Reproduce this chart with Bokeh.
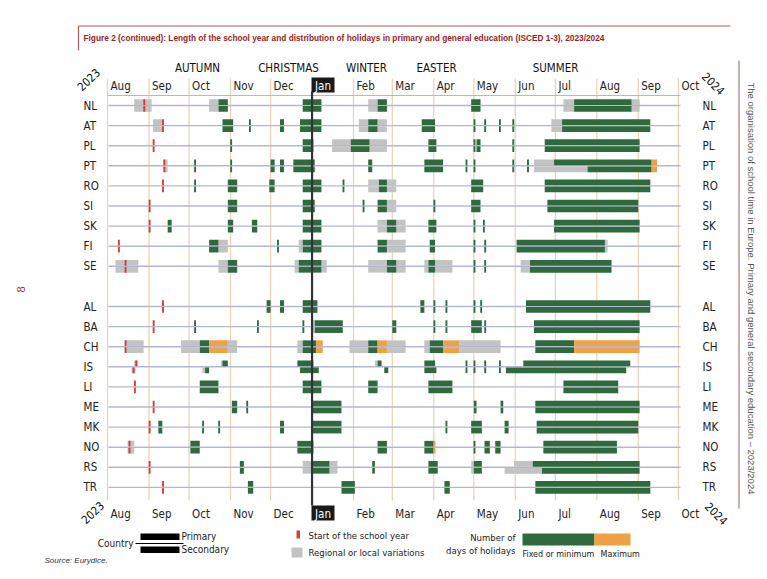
import datetime as dt
from bokeh.plotting import figure
from bokeh.models import Range1d
from bokeh.core.properties import value
from bokeh.embed import file_html
from bokeh.resources import INLINE

# ---------------- data ----------------
ROWS = ["NL", "AT", "PL", "PT", "RO", "SI", "SK", "FI", "SE", "",
        "AL", "BA", "CH", "IS", "LI", "ME", "MK", "NO", "RS", "TR"]
MONTH_LABELS = ["Aug", "Sep", "Oct", "Nov", "Dec", "Jan", "Feb", "Mar",
                "Apr", "May", "Jun", "Jul", "Aug", "Sep", "Oct"]
MONTH_STARTS = ["2023-08-01", "2023-09-01", "2023-10-01", "2023-11-01",
                "2023-12-01", "2024-01-01", "2024-02-01", "2024-03-01",
                "2024-04-01", "2024-05-01", "2024-06-01", "2024-07-01",
                "2024-08-01", "2024-09-01", "2024-10-01"]
SEASONS = ["AUTUMN", "CHRISTMAS", "WINTER", "EASTER", "SUMMER"]
YEARS = ["2023", "2024"]

# segments: (first day, last day, kind, level)
# kind: f = fixed/minimum, m = maximum, v = regional variation, s = start of school year
# level: b = both, p = primary, s = secondary
NL = [("2023-08-21", "2023-09-02", "v", "b"), ("2023-08-28", "2023-08-28", "s", "b"),
      ("2023-10-16", "2023-10-22", "v", "b"), ("2023-10-23", "2023-10-29", "f", "b"),
      ("2023-12-25", "2024-01-07", "f", "b"), ("2024-02-12", "2024-02-18", "v", "b"),
      ("2024-02-19", "2024-02-25", "f", "b"), ("2024-04-29", "2024-05-05", "f", "b"),
      ("2024-07-07", "2024-07-14", "v", "b"), ("2024-07-15", "2024-08-26", "f", "b"),
      ("2024-08-27", "2024-09-01", "v", "b")]
AT = [("2023-09-04", "2023-09-10", "v", "b"), ("2023-09-11", "2023-09-11", "s", "b"),
      ("2023-10-26", "2023-11-02", "f", "b"), ("2023-11-15", "2023-11-15", "f", "b"),
      ("2023-12-08", "2023-12-10", "f", "b"), ("2023-12-23", "2024-01-07", "f", "b"),
      ("2024-02-05", "2024-02-11", "v", "b"), ("2024-02-12", "2024-02-18", "f", "b"),
      ("2024-02-19", "2024-02-25", "v", "b"), ("2024-03-23", "2024-04-01", "f", "b"),
      ("2024-05-01", "2024-05-01", "f", "b"), ("2024-05-09", "2024-05-09", "f", "b"),
      ("2024-05-20", "2024-05-20", "f", "b"), ("2024-05-30", "2024-05-30", "f", "b"),
      ("2024-06-28", "2024-07-05", "v", "b"), ("2024-07-06", "2024-09-09", "f", "b")]
PL = [("2023-09-04", "2023-09-04", "s", "b"), ("2023-11-01", "2023-11-01", "f", "b"),
      ("2023-12-25", "2024-01-01", "f", "b"), ("2024-01-16", "2024-01-29", "v", "b"),
      ("2024-01-30", "2024-02-12", "f", "b"), ("2024-02-13", "2024-02-25", "v", "b"),
      ("2024-03-28", "2024-04-02", "f", "b"), ("2024-05-01", "2024-05-01", "f", "b"),
      ("2024-05-03", "2024-05-05", "f", "b"), ("2024-05-30", "2024-05-30", "f", "b"),
      ("2024-06-23", "2024-09-01", "f", "b")]
PT = [("2023-09-12", "2023-09-14", "v", "b"), ("2023-09-12", "2023-09-12", "s", "b"),
      ("2023-10-05", "2023-10-05", "f", "b"), ("2023-11-01", "2023-11-01", "f", "b"),
      ("2023-12-01", "2023-12-03", "f", "b"), ("2023-12-08", "2023-12-10", "f", "b"),
      ("2023-12-18", "2024-01-02", "f", "b"), ("2024-02-12", "2024-02-14", "f", "b"),
      ("2024-03-25", "2024-04-07", "f", "b"), ("2024-04-25", "2024-04-25", "f", "b"),
      ("2024-05-01", "2024-05-01", "f", "b"), ("2024-05-30", "2024-05-30", "f", "b"),
      ("2024-06-10", "2024-06-10", "f", "b"),
      ("2024-06-15", "2024-06-29", "v", "p"), ("2024-06-30", "2024-09-10", "f", "p"),
      ("2024-06-15", "2024-07-24", "v", "s"), ("2024-07-25", "2024-09-10", "f", "s"),
      ("2024-09-11", "2024-09-14", "m", "b")]
RO = [("2023-09-11", "2023-09-11", "s", "b"), ("2023-10-05", "2023-10-05", "f", "b"),
      ("2023-10-30", "2023-11-05", "f", "b"), ("2023-11-30", "2023-12-03", "f", "b"),
      ("2023-12-25", "2024-01-07", "f", "b"), ("2024-01-24", "2024-01-24", "f", "b"),
      ("2024-02-12", "2024-02-19", "v", "b"), ("2024-02-20", "2024-02-25", "f", "b"),
      ("2024-02-26", "2024-03-03", "v", "b"), ("2024-04-29", "2024-05-07", "f", "b"),
      ("2024-06-23", "2024-09-09", "f", "b")]
SI = [("2023-09-01", "2023-09-01", "s", "b"), ("2023-10-30", "2023-11-05", "f", "b"),
      ("2023-12-25", "2024-01-02", "f", "b"), ("2024-02-08", "2024-02-08", "f", "b"),
      ("2024-02-19", "2024-02-25", "f", "b"), ("2024-02-26", "2024-03-03", "v", "b"),
      ("2024-04-01", "2024-04-01", "f", "b"), ("2024-04-29", "2024-05-05", "f", "b"),
      ("2024-06-25", "2024-08-31", "f", "b")]
SK = [("2023-09-01", "2023-09-01", "s", "b"), ("2023-09-15", "2023-09-17", "f", "b"),
      ("2023-10-30", "2023-11-02", "f", "b"), ("2023-11-17", "2023-11-20", "f", "b"),
      ("2023-12-25", "2024-01-07", "f", "b"), ("2024-02-19", "2024-02-25", "v", "b"),
      ("2024-02-26", "2024-03-03", "f", "b"), ("2024-03-04", "2024-03-10", "v", "b"),
      ("2024-03-28", "2024-04-02", "f", "b"), ("2024-05-01", "2024-05-01", "f", "b"),
      ("2024-05-08", "2024-05-08", "f", "b"), ("2024-06-30", "2024-09-01", "f", "b")]
FI = [("2023-08-09", "2023-08-09", "s", "b"), ("2023-10-16", "2023-10-22", "f", "b"),
      ("2023-10-23", "2023-10-29", "v", "b"), ("2023-12-06", "2023-12-06", "f", "b"),
      ("2023-12-22", "2023-12-24", "v", "b"), ("2023-12-25", "2024-01-07", "f", "b"),
      ("2024-02-19", "2024-02-25", "f", "b"), ("2024-02-26", "2024-03-10", "v", "b"),
      ("2024-03-29", "2024-04-01", "f", "b"), ("2024-05-01", "2024-05-01", "f", "b"),
      ("2024-05-09", "2024-05-09", "f", "b"), ("2024-06-02", "2024-08-06", "f", "b"),
      ("2024-08-07", "2024-08-08", "v", "b")]
SE = [("2023-08-07", "2023-08-23", "v", "b"), ("2023-08-14", "2023-08-14", "s", "b"),
      ("2023-10-23", "2023-10-29", "v", "b"), ("2023-10-30", "2023-11-05", "f", "b"),
      ("2023-12-19", "2023-12-21", "v", "b"), ("2023-12-22", "2024-01-07", "f", "b"),
      ("2024-01-08", "2024-01-11", "v", "b"), ("2024-02-12", "2024-02-25", "v", "b"),
      ("2024-02-26", "2024-03-03", "f", "b"), ("2024-03-04", "2024-03-10", "v", "b"),
      ("2024-03-25", "2024-03-27", "v", "b"), ("2024-03-28", "2024-04-01", "f", "b"),
      ("2024-04-02", "2024-04-14", "v", "b"), ("2024-05-01", "2024-05-01", "f", "b"),
      ("2024-05-09", "2024-05-09", "f", "b"), ("2024-06-05", "2024-06-11", "v", "b"),
      ("2024-06-12", "2024-08-11", "f", "b")]
AL = [("2023-09-11", "2023-09-11", "s", "b"), ("2023-11-28", "2023-11-30", "f", "b"),
      ("2023-12-08", "2023-12-10", "f", "b"), ("2023-12-25", "2024-01-04", "f", "b"),
      ("2024-03-22", "2024-03-24", "f", "b"), ("2024-04-01", "2024-04-01", "f", "b"),
      ("2024-04-10", "2024-04-10", "f", "b"), ("2024-05-01", "2024-05-01", "f", "b"),
      ("2024-05-06", "2024-05-06", "f", "b"), ("2024-06-09", "2024-09-09", "f", "b")]
BA = [("2023-09-04", "2023-09-04", "s", "b"), ("2023-10-05", "2023-10-05", "f", "b"),
      ("2023-11-21", "2023-11-21", "f", "b"), ("2023-12-25", "2023-12-25", "f", "b"),
      ("2024-01-01", "2024-01-02", "v", "b"), ("2024-01-03", "2024-01-23", "f", "b"),
      ("2024-03-01", "2024-03-03", "f", "b"), ("2024-04-01", "2024-04-01", "f", "b"),
      ("2024-04-10", "2024-04-10", "f", "b"), ("2024-04-29", "2024-05-06", "f", "b"),
      ("2024-05-09", "2024-05-09", "f", "b"), ("2024-06-15", "2024-09-01", "f", "b")]
CH = [("2023-08-14", "2023-08-27", "v", "b"), ("2023-08-14", "2023-08-14", "s", "b"),
      ("2023-09-25", "2023-10-08", "v", "b"), ("2023-10-09", "2023-10-15", "f", "b"),
      ("2023-10-16", "2023-10-29", "m", "b"), ("2023-10-30", "2023-11-05", "v", "b"),
      ("2023-12-21", "2023-12-24", "v", "b"), ("2023-12-25", "2024-01-03", "f", "b"),
      ("2024-01-04", "2024-01-08", "m", "b"), ("2024-01-29", "2024-02-11", "v", "b"),
      ("2024-02-12", "2024-02-18", "f", "b"), ("2024-02-19", "2024-02-25", "m", "b"),
      ("2024-02-26", "2024-03-10", "v", "b"), ("2024-03-25", "2024-03-28", "v", "b"),
      ("2024-03-29", "2024-04-07", "f", "b"), ("2024-04-08", "2024-04-19", "m", "b"),
      ("2024-04-20", "2024-05-20", "v", "b"), ("2024-06-16", "2024-07-14", "f", "b"),
      ("2024-07-15", "2024-09-01", "m", "b")]
IS = [("2023-08-21", "2023-08-23", "v", "p"), ("2023-08-22", "2023-08-22", "s", "p"),
      ("2023-08-19", "2023-08-21", "v", "s"), ("2023-08-20", "2023-08-20", "s", "s"),
      ("2023-10-25", "2023-10-25", "v", "p"), ("2023-10-26", "2023-10-29", "f", "p"),
      ("2023-10-11", "2023-10-12", "v", "s"), ("2023-10-13", "2023-10-15", "f", "s"),
      ("2023-12-21", "2024-01-01", "f", "p"), ("2023-12-23", "2024-01-05", "f", "s"),
      ("2024-02-17", "2024-02-18", "v", "p"), ("2024-02-19", "2024-02-21", "f", "p"),
      ("2024-02-24", "2024-02-26", "f", "s"), ("2024-03-25", "2024-04-01", "f", "p"),
      ("2024-03-25", "2024-04-02", "f", "s"), ("2024-04-25", "2024-04-25", "f", "b"),
      ("2024-05-01", "2024-05-01", "f", "b"), ("2024-05-09", "2024-05-09", "f", "b"),
      ("2024-05-20", "2024-05-20", "f", "b"), ("2024-06-07", "2024-08-25", "f", "p"),
      ("2024-05-25", "2024-08-22", "f", "s")]
LI = [("2023-08-21", "2023-08-21", "s", "b"), ("2023-10-09", "2023-10-22", "f", "b"),
      ("2023-12-25", "2024-01-07", "f", "b"), ("2024-02-12", "2024-02-18", "f", "b"),
      ("2024-03-28", "2024-04-14", "f", "b"), ("2024-07-07", "2024-08-16", "f", "b")]
ME = [("2023-09-04", "2023-09-04", "s", "b"), ("2023-11-02", "2023-11-05", "f", "b"),
      ("2023-11-13", "2023-11-13", "f", "b"), ("2024-01-01", "2024-01-22", "f", "b"),
      ("2024-05-01", "2024-05-02", "f", "b"), ("2024-05-21", "2024-05-22", "f", "b"),
      ("2024-06-16", "2024-09-01", "f", "b")]
MK = [("2023-09-01", "2023-09-01", "s", "b"), ("2023-09-08", "2023-09-10", "f", "b"),
      ("2023-10-11", "2023-10-11", "f", "b"), ("2023-10-23", "2023-10-23", "f", "b"),
      ("2023-12-08", "2023-12-10", "f", "b"), ("2024-01-01", "2024-01-22", "f", "b"),
      ("2024-04-10", "2024-04-10", "f", "b"), ("2024-04-29", "2024-05-06", "f", "b"),
      ("2024-05-24", "2024-05-26", "f", "b"), ("2024-06-17", "2024-08-31", "f", "b")]
NO = [("2023-08-16", "2023-08-20", "v", "b"), ("2023-08-17", "2023-08-17", "s", "b"),
      ("2023-10-02", "2023-10-08", "f", "b"), ("2023-12-21", "2024-01-01", "f", "b"),
      ("2024-02-19", "2024-02-25", "f", "b"), ("2024-03-25", "2024-03-31", "f", "b"),
      ("2024-04-01", "2024-04-01", "m", "b"), ("2024-05-01", "2024-05-01", "f", "b"),
      ("2024-05-09", "2024-05-12", "f", "b"), ("2024-05-17", "2024-05-20", "f", "b"),
      ("2024-06-22", "2024-08-15", "f", "b")]
RS = [("2023-09-01", "2023-09-01", "s", "b"), ("2023-11-08", "2023-11-10", "f", "b"),
      ("2023-12-25", "2023-12-31", "v", "b"), ("2024-01-01", "2024-01-13", "f", "b"),
      ("2024-01-14", "2024-01-19", "v", "b"), ("2024-02-15", "2024-02-16", "f", "b"),
      ("2024-03-28", "2024-04-03", "f", "b"), ("2024-04-29", "2024-04-30", "v", "b"),
      ("2024-05-01", "2024-05-06", "f", "b"),
      ("2024-05-31", "2024-06-13", "v", "p"), ("2024-06-14", "2024-09-01", "f", "p"),
      ("2024-05-24", "2024-06-20", "v", "s"), ("2024-06-21", "2024-09-01", "f", "s")]
TR = [("2023-09-11", "2023-09-11", "s", "b"), ("2023-11-14", "2023-11-17", "f", "b"),
      ("2024-01-23", "2024-02-01", "f", "b"), ("2024-04-09", "2024-04-12", "f", "b"),
      ("2024-06-16", "2024-09-09", "f", "b")]

COUNTRY_DATA = {"NL": NL, "AT": AT, "PL": PL, "PT": PT, "RO": RO, "SI": SI,
                "SK": SK, "FI": FI, "SE": SE, "AL": AL, "BA": BA, "CH": CH,
                "IS": IS, "LI": LI, "ME": ME, "MK": MK, "NO": NO, "RS": RS, "TR": TR}

# ---------------- layout helpers (pixel -> data) ----------------
ORIGIN = dt.date(2023, 8, 1)
X0PX, PXD = 107.0, 1.337      # pixel of 1 Aug 2023, pixels per day
Y0PX, PXR = 105.0, 20.1       # pixel of first row, pixels per row
W, H = 767, 579


def day(s):
    return (dt.date.fromisoformat(s) - ORIGIN).days


def PX(x):
    return (x - X0PX) / PXD


def PY(y):
    return (y - Y0PX) / PXR


FONT = "DejaVu Sans Condensed, Liberation Sans, sans-serif"
FONT2 = "Liberation Sans"
GREEN, ORANGE, GRAY, RED = "#2e6a3e", "#eea245", "#c3c3c3", "#d63b35"
ROWLINE, GRID = "#b3b8d1", "#ebd0b2"
COLORS = {"f": GREEN, "m": ORANGE, "v": GRAY, "s": RED}

p = figure(width=W, height=H, x_range=Range1d(PX(0), PX(W)),
           y_range=Range1d(PY(H), PY(0)), output_backend="svg",
           toolbar_location=None, min_border=0,
           x_axis_location=None, y_axis_location=None)
p.grid.visible = False
p.outline_line_color = None
p.background_fill_color = "white"
p.border_fill_color = "white"


def txt(xs, ys, texts, size="12px", color="#222222", align="left", angle=0.0,
        style="normal", font=FONT, baseline="middle"):
    p.text(x=xs, y=ys, text=texts, angle=angle, text_font=value(font),
           text_font_size=value(size), text_font_style=style, text_color=color,
           text_align=align, text_baseline=baseline)


# ---------------- frame / title ----------------
p.segment(x0=[PX(78), PX(78)], y0=[PY(25.5), PY(25.5)], x1=[PX(730), PX(78)],
          y1=[PY(25.5), PY(50)], line_color="#a65c5c", line_width=1.2)
txt([PX(83)], [PY(37)],
    ["Figure 2 (continued): Length of the school year and distribution of holidays in primary and  general education (ISCED 1-3), 2023/2024"],
    size="8.3px", color="#9a2424", style="bold", font=FONT2)
p.segment(x0=[PX(738.5)], y0=[PY(60)], x1=[PX(738.5)], y1=[PY(508)],
          line_color="#b07a7a", line_width=1.2)
txt([PX(751)], [PY(288)],
    ["The organisation of school time in Europe. Primary and general secondary education \u2013 2023/2024"],
    size="9.5px", color="#555555", align="center", angle=-1.5708, font=FONT2)
txt([PX(20)], [PY(289)], ["8"], size="11px", color="#9a2d2d", align="center",
    angle=1.5708, font=FONT2)

# ---------------- grid ----------------
ms = [day(s) for s in MONTH_STARTS]
jan = day("2024-01-01")
grid_x = [m for m in ms if m != jan]
p.segment(x0=grid_x, y0=[PY(78)] * len(grid_x), x1=grid_x, y1=[PY(500)] * len(grid_x),
          line_color=GRID, line_width=1.2)
p.segment(x0=[PX(107)], y0=[PY(95)], x1=[PX(680)], y1=[PY(95)],
          line_color=ROWLINE, line_width=1.2)

row_idx = [i for i, c in enumerate(ROWS) if c]
p.segment(x0=[PX(108)] * len(row_idx), y0=row_idx, x1=[PX(680)] * len(row_idx),
          y1=row_idx, line_color=ROWLINE, line_width=1.4)

# ---------------- bars ----------------
HALF_OUT, HALF_IN = 0.315, 0.03
quads = {k: dict(left=[], right=[], top=[], bottom=[]) for k in "vfms"}
for r, c in enumerate(ROWS):
    if not c:
        continue
    for start, end, kind, level in COUNTRY_DATA[c]:
        a, b = day(start), day(end) + 1
        if kind == "s" or a + 1 == b:
            mid = a + 0.5
            a, b = mid - 0.7, mid + 0.7
        halves = []
        if level in "bp":
            halves.append((r - HALF_OUT, r - HALF_IN))
        if level in "bs":
            halves.append((r + HALF_IN, r + HALF_OUT))
        for t, btm in halves:
            q = quads[kind]
            q["left"].append(a)
            q["right"].append(b)
            q["top"].append(t)
            q["bottom"].append(btm)
for k in "vfms":
    p.quad(**quads[k], fill_color=COLORS[k], line_color=None)

# Jan line over bars
p.segment(x0=[jan], y0=[PY(91)], x1=[jan], y1=[PY(505)], line_color="#333333", line_width=2.2)

# ---------------- month labels ----------------
lab_x = [m + 3 / PXD for m in ms]
top_x = [x for x, m in zip(lab_x, ms) if m != jan]
top_t = [lab for lab, m in zip(MONTH_LABELS, ms) if m != jan]
txt(top_x, [PY(85)] * len(top_x), top_t, size="11.5px")
txt(top_x, [PY(513)] * len(top_x), top_t, size="11.5px")
p.quad(left=[PX(311), PX(311)], right=[PX(334), PX(334)], top=[PY(77), PY(505)],
       bottom=[PY(92), PY(520)], fill_color="#1a1a1a", line_color=None)
txt([PX(322.5), PX(322.5)], [PY(85), PY(513)], ["Jan", "Jan"], size="11.5px",
    color="white", align="center")

SEASON_X = [PX(197), PX(288), PX(366), PX(436), PX(555)]
txt(SEASON_X, [PY(67)] * 5, SEASONS, size="11.5px", color="#111111", align="center")

txt([PX(88), PX(92)], [PY(79), PY(512)], [YEARS[0], YEARS[0]], size="11.5px",
    color="#111111", align="center", angle=0.75)
txt([PX(713), PX(716)], [PY(83), PY(513)], [YEARS[1], YEARS[1]], size="11.5px",
    color="#111111", align="center", angle=-0.785)

# ---------------- country labels ----------------
names = [c for c in ROWS if c]
txt([PX(83)] * len(names), row_idx, names, size="11.5px")
txt([PX(702)] * len(names), row_idx, names, size="11.5px")

# ---------------- legend ----------------
p.quad(left=[PX(140), PX(140)], right=[PX(179), PX(179)], top=[PY(533), PY(546)],
       bottom=[PY(539.5), PY(552.5)], fill_color="black", line_color=None)
p.segment(x0=[PX(135)], y0=[PY(543)], x1=[PX(183)], y1=[PY(543)], line_color="black", line_width=1)
txt([PX(133)], [PY(543)], ["Country"], size="10px", align="right")
txt([PX(181), PX(181)], [PY(536), PY(549)], ["Primary", "Secondary"], size="10px")
p.quad(left=[PX(296)], right=[PX(299.5)], top=[PY(530)], bottom=[PY(538)],
       fill_color=RED, line_color=None)
p.quad(left=[PX(291)], right=[PX(302)], top=[PY(547)], bottom=[PY(557)],
       fill_color=GRAY, line_color=None)
txt([PX(308), PX(308)], [PY(535), PY(552)],
    ["Start of the school year", "Regional or local variations"], size="9.5px")
txt([PX(515), PX(515)], [PY(537), PY(550)], ["Number of", "days of holidays"],
    size="9.5px", align="right")
p.quad(left=[PX(522), PX(594)], right=[PX(594), PX(630)], top=[PY(533), PY(533)],
       bottom=[PY(545), PY(545)], fill_color=[GREEN, ORANGE], line_color=None)
txt([PX(522), PX(600)], [PY(553), PY(553)], ["Fixed or minimum", "Maximum"], size="8.9px")
txt([PX(44)], [PY(560)], ["Source: Eurydice."], size="8px", color="#333333",
    font=FONT2, style="italic")

open("out.html", "w").write(file_html(p, INLINE))
